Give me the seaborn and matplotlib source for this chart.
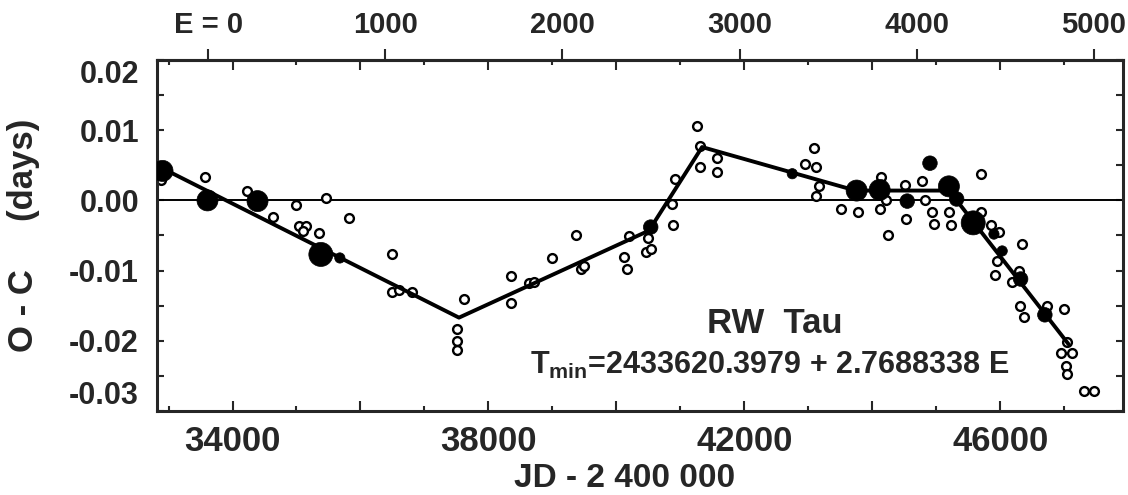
import numpy as np
import pandas as pd
import matplotlib
matplotlib.use('Agg')
import matplotlib.pyplot as plt
import seaborn as sns
from matplotlib.ticker import MultipleLocator, FuncFormatter, NullLocator

# ephemeris  Tmin = 2433620.3979 + 2.7688338 E
T0 = 33620.3979
PERIOD = 2.7688338

# open circles (JD - 2400000, O-C days)
open_jd = [32881, 33573, 34234, 34636, 34991, 35042, 35156, 35105, 35355, 35459,
           35823, 36500, 36500, 36605, 36813, 37620, 37516, 37511, 37511, 38350,
           38350, 38636, 38714, 39000, 39366, 39444, 39495, 40120, 40172, 40198,
           40500, 40469, 40547, 40886, 40875, 40912, 41266, 41303, 41303, 41578,
           41578, 43089, 42948, 43115, 43167, 43115, 43506, 43781, 44131, 44116,
           44209, 44250, 44511, 44531, 44772, 44823, 44938, 44964, 45198, 45234,
           45694, 45694, 45850, 45980, 46344, 45953, 45917, 46292, 46178, 46303,
           46370, 46734, 46995, 47047, 46944, 47116, 47022, 47047, 47308, 47464]
open_oc = [0.0029, 0.0033, 0.0013, -0.0023, -0.0006, -0.0037, -0.0036, -0.0044, -0.0047, 0.0003,
           -0.0025, -0.0077, -0.0130, -0.0128, -0.0130, -0.0140, -0.0183, -0.0200, -0.0213, -0.0108,
           -0.0146, -0.0118, -0.0116, -0.0082, -0.0049, -0.0098, -0.0093, -0.0080, -0.0098, -0.0051,
           -0.0053, -0.0074, -0.0069, -0.0035, -0.0005, 0.0030, 0.0106, 0.0077, 0.0048, 0.0060,
           0.0040, 0.0074, 0.0052, 0.0048, 0.0021, 0.0006, -0.0012, -0.0016, 0.0033, -0.0012,
           0.0000, -0.0049, 0.0022, -0.0026, 0.0028, 0.0000, -0.0016, -0.0033, -0.0017, -0.0035,
           0.0037, -0.0016, -0.0035, -0.0045, -0.0062, -0.0086, -0.0106, -0.0100, -0.0116, -0.0150,
           -0.0166, -0.0150, -0.0154, -0.0202, -0.0218, -0.0218, -0.0236, -0.0247, -0.0272, -0.0272]

# filled dots (photoelectric minima), size class
filled_jd = [32906, 33609, 34391, 35381, 35678, 40537, 42750, 43756, 44116, 44547,
             44902, 45198, 45319, 45578, 45902, 46031, 46319, 46698]
filled_oc = [0.0042, 0.0000, -0.0001, -0.0077, -0.0082, -0.0038, 0.0038, 0.0014, 0.0015, -0.0001,
             0.0053, 0.0020, 0.0002, -0.0032, -0.0048, -0.0072, -0.0112, -0.0163]
filled_kind = ['L', 'L', 'L', 'XL', 'S', 'M', 'S', 'L', 'L', 'M',
               'M', 'L', 'M', 'XL', 'S', 'S', 'M', 'M']

# broken-line fit
fit_jd = [32920, 37540, 40510, 41340, 43740, 45200, 47070]
fit_oc = [0.0045, -0.0167, -0.0043, 0.0076, 0.0014, 0.0014, -0.0205]

epoch_ticks = [0, 1000, 2000, 3000, 4000, 5000]
epoch_labels = ['E = 0', '1000', '2000', '3000', '4000', '5000']
oc_ticks = [-0.03, -0.02, -0.01, 0.00, 0.01, 0.02]

sns.set_style('ticks')
plt.rcParams['font.family'] = ['Liberation Sans', 'DejaVu Sans']
plt.rcParams['font.weight'] = 'bold'
plt.rcParams['axes.unicode_minus'] = False
plt.rcParams['mathtext.fontset'] = 'custom'
plt.rcParams['mathtext.rm'] = 'Liberation Sans:bold'
plt.rcParams['mathtext.bf'] = 'Liberation Sans:bold'

fig = plt.figure(figsize=(11.28, 4.95), dpi=100)
ax = fig.add_axes([0.1392, 0.1697, 0.8564, 0.7091])

df_open = pd.DataFrame({'jd': open_jd, 'oc': open_oc})
df_fill = pd.DataFrame({'jd': filled_jd, 'oc': filled_oc, 'kind': filled_kind})
df_fit = pd.DataFrame({'jd': fit_jd, 'oc': fit_oc})

ax.axhline(0, color='black', lw=1.4, zorder=1)
sns.scatterplot(data=df_open, x='jd', y='oc', color='white', edgecolor='black',
                linewidth=1.7, s=40, ax=ax, zorder=2)
sns.lineplot(data=df_fit, x='jd', y='oc', color='black', lw=2.8, sort=False,
             estimator=None, ax=ax, zorder=3)
sns.scatterplot(data=df_fill, x='jd', y='oc', size='kind',
                sizes={'XL': 300, 'L': 230, 'M': 110, 'S': 55},
                color='black', edgecolor='black', linewidth=0.5, legend=False,
                ax=ax, zorder=4)

ax.set_xlim(32820, 47920)
ax.set_ylim(-0.03, 0.02)

ax.xaxis.set_major_locator(MultipleLocator(2000))
ax.xaxis.set_minor_locator(MultipleLocator(1000))
ax.xaxis.set_major_formatter(FuncFormatter(
    lambda v, p: f'{v:.0f}' if round(v) % 4000 == 2000 else ''))
ax.set_yticks(oc_ticks)
ax.set_yticklabels([f'{abs(v):.2f}' if abs(v) < 1e-9 else f'{v:.2f}' for v in oc_ticks])
ax.yaxis.set_minor_locator(MultipleLocator(0.005))
ax.get_yticklabels()[-1].set_va('top')
ax.get_yticklabels()[0].set_va('bottom')

ax.tick_params(axis='x', which='major', direction='in', top=True, length=7, width=1.5,
               labelsize=25, pad=10)
ax.tick_params(axis='x', which='minor', direction='in', top=True, length=3.5, width=1.5)
ax.tick_params(axis='y', which='both', direction='in', right=True, length=5, width=1.5,
               labelsize=22, pad=13)
for sp in ax.spines.values():
    sp.set_linewidth(2.2)

ax.set_xlabel('JD - 2 400 000', fontsize=24, fontweight='bold')
ax.xaxis.set_label_coords(0.4845, -0.148)
ax.xaxis.label.set_va('top')
ax.set_ylabel('O - C     (days)', fontsize=25, fontweight='bold')
ax.yaxis.set_label_coords(-0.121, 0.5)

secax = ax.secondary_xaxis('top', functions=(lambda jd: (jd - T0) / PERIOD,
                                             lambda e: e * PERIOD + T0))
secax.set_xticks(epoch_ticks, labels=epoch_labels)
secax.xaxis.set_minor_locator(NullLocator())
secax.tick_params(direction='out', length=8, width=1.5, pad=7, labelsize=21)
secax.spines['top'].set_linewidth(2.2)

ax.text(0.6398, 0.2507, 'RW  Tau', transform=ax.transAxes, ha='center', va='center',
        fontsize=25, fontweight='bold')
ax.text(0.6346, 0.131, r'T$_{\mathrm{min}}$=2433620.3979 + 2.7688338 E',
        transform=ax.transAxes, ha='center', va='center', fontsize=22, fontweight='bold')

fig.savefig('out.png', dpi=100)
